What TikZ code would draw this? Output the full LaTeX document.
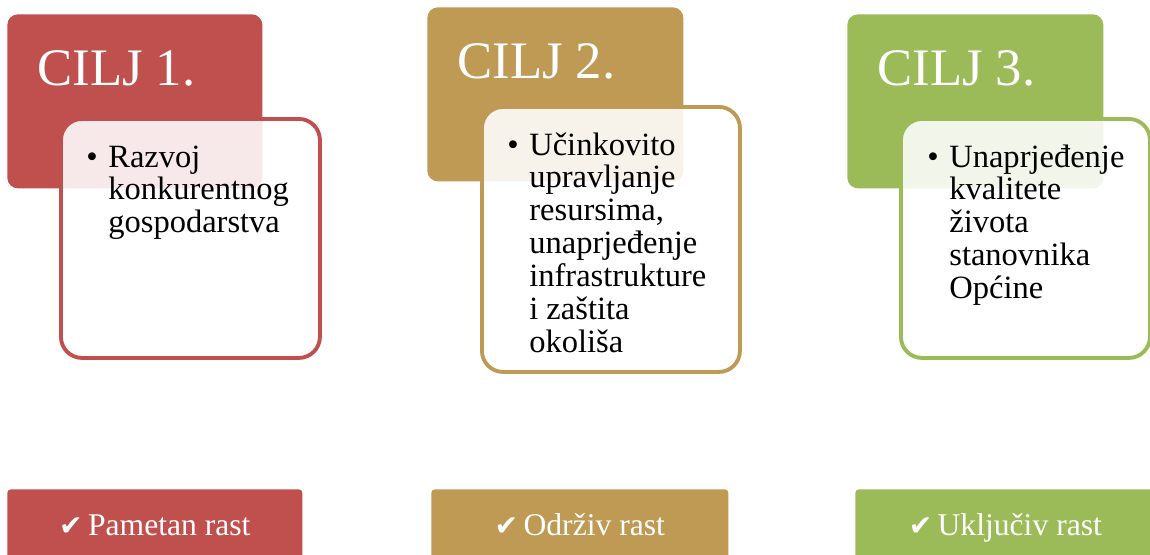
\documentclass[tikz,border=0pt]{standalone}
\usepackage{fontspec}
\setmainfont{Liberation Serif}
\newfontfamily\kvacica{DejaVu Sans}
\usepackage{xcolor}
\usepackage{tikz}
\usetikzlibrary{positioning,calc}
\definecolor{ccrvena}{HTML}{C0504D}
\definecolor{czlatna}{HTML}{BE9A55}
\definecolor{czelena}{HTML}{9BBB59}
\tikzset{
  naslov/.style={rectangle, rounded corners=6pt, anchor=north west, inner sep=0pt,
    minimum width=5.1cm, minimum height=3.48cm},
  okvir/.style={rectangle, rounded corners=12pt, anchor=north west, inner sep=0pt,
    line width=2.2pt, fill=white, fill opacity=0.88},
  traka/.style={rectangle, rounded corners=2pt, anchor=north west, inner sep=0pt,
    minimum height=1.6cm},
  natpis/.style={anchor=base west, inner sep=0pt, text=white,
    font=\fontsize{30}{36}\selectfont},
  stavka/.style={anchor=base west, inner sep=0pt, align=left,
    font=\fontsize{18.5}{18.7}\selectfont},
  rast/.style={anchor=base, inner sep=0pt, text=white,
    font=\fontsize{18}{22}\selectfont},
}
\newcommand{\kv}{{\kvacica\fontsize{16}{16}\selectfont\char"2714}}

\begin{document}
\begin{tikzpicture}
  \useasboundingbox (0,0) rectangle (23,-11.08);
  % cilj 1
  \node[naslov, fill=ccrvena] (t1) at (0.14,-0.28) {};
  \node[natpis] (n1) at ($(t1.north west)+(0.60,-1.42)$) {CILJ 1.};
  \node[okvir, draw=ccrvena, minimum width=5.18cm, minimum height=4.78cm] (c1) at (1.18,-2.34) {};
  \node[stavka] (s1) at ($(c1.north west)+(0.54,-1.0)$)
    {\begin{tabular}[t]{@{}p{0.44cm}@{}l@{}}
      \textbullet & Razvoj\\ & konkurentnog\\ & gospodarstva
    \end{tabular}};
  % cilj 2
  \node[naslov, fill=czlatna, minimum width=5.12cm] (t2) at (8.54,-0.14) {};
  \node[natpis] (n2) at ($(t2.north west)+(0.60,-1.42)$) {CILJ 2.};
  \node[okvir, draw=czlatna, minimum width=5.16cm, minimum height=5.30cm] (c2) at (9.60,-2.10) {};
  \node[stavka] (s2) at ($(c2.north west)+(0.54,-1.0)$)
    {\begin{tabular}[t]{@{}p{0.44cm}@{}l@{}}
      \textbullet & Učinkovito\\ & upravljanje\\ & resursima,\\ & unaprjeđenje\\
      & infrastrukture\\ & i zaštita\\ & okoliša
    \end{tabular}};
  % cilj 3
  \node[naslov, fill=czelena, minimum width=5.12cm] (t3) at (16.94,-0.28) {};
  \node[natpis] (n3) at ($(t3.north west)+(0.60,-1.42)$) {CILJ 3.};
  \node[okvir, draw=czelena, minimum width=4.98cm, minimum height=4.78cm] (c3) at (17.98,-2.34) {};
  \node[stavka] (s3) at ($(c3.north west)+(0.56,-1.0)$)
    {\begin{tabular}[t]{@{}p{0.44cm}@{}l@{}}
      \textbullet & Unaprjeđenje\\ & kvalitete\\ & života\\ & stanovnika\\ & Općine
    \end{tabular}};
  % rast
  \node[traka, fill=ccrvena, minimum width=5.90cm] (b1) at (0.14,-9.78) {};
  \node[rast] (r1) at ($(b1.north)+(0,-0.92)$) {\kv\,Pametan rast};
  \node[traka, fill=czlatna, minimum width=5.94cm] (b2) at (8.62,-9.78) {};
  \node[rast] (r2) at ($(b2.north)+(0,-0.92)$) {\kv\,Održiv rast};
  \node[traka, fill=czelena, minimum width=6.2cm] (b3) at (17.10,-9.78) {};
  \node[rast] (r3) at ($(b3.north)+(-0.1,-0.92)$) {\kv\,Uključiv rast};
\end{tikzpicture}
\end{document}
